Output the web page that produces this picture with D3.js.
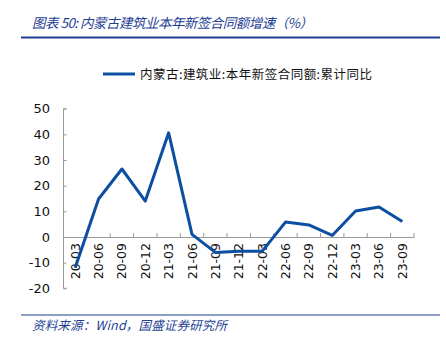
<!DOCTYPE html>
<html><head><meta charset="utf-8">
<script src="https://cdn.jsdelivr.net/npm/d3@7"></script>
<style>body{margin:0;background:#fff;} svg{display:block;}</style>
</head><body>
<script>
const categories = ["20-03","20-06","20-09","20-12","21-03","21-06","21-09","21-12","22-03","22-06","22-09","22-12","23-03","23-06","23-09"];
const values = [-12, 14.8, 26.5, 14, 40.6, 1, -6, -5.6, -5.6, 5.8, 4.7, 0.6, 10.1, 11.7, 6];
const yTicks = [-20,-10,0,10,20,30,40,50];
const seriesName = "内蒙古:建筑业:本年新签合同额:累计同比";
const titleText = "图表 50:  内蒙古建筑业本年新签合同额增速（%）";
const sourceText = "资料来源：Wind，国盛证券研究所";

const W=446,H=345;
const svg=d3.select("body").append("svg").attr("width",W).attr("height",H);
const blue="#0b4ea2", titleBlue="#1f3f94";
const cjk="'Noto Sans CJK SC', sans-serif";

svg.append("text").attr("x",32).attr("y",28).attr("fill",titleBlue)
  .attr("textLength",281).attr("lengthAdjust","spacing")
  .style("font-family",cjk).style("font-size","13.5px").style("font-style","italic").text(titleText);
svg.append("line").attr("x1",21).attr("x2",440).attr("y1",37.5).attr("y2",37.5).attr("stroke",titleBlue).attr("stroke-width",2);

svg.append("line").attr("x1",21).attr("x2",440).attr("y1",315).attr("y2",315).attr("stroke",titleBlue).attr("stroke-width",1.2);
svg.append("text").attr("x",32).attr("y",330).attr("fill",titleBlue)
  .attr("textLength",195).attr("lengthAdjust","spacing")
  .style("font-family",cjk).style("font-size","12.5px").style("font-style","italic").text(sourceText);

// legend
svg.append("line").attr("x1",103).attr("x2",135).attr("y1",74).attr("y2",74).attr("stroke",blue).attr("stroke-width",3);
svg.append("text").attr("x",140).attr("y",78.5).attr("fill","#111")
  .attr("textLength",232).attr("lengthAdjust","spacing")
  .style("font-family",cjk).style("font-size","12.5px").text(seriesName);

const x=d3.scaleBand().domain(categories).range([63.5,414]);
const y=d3.scaleLinear().domain([-20,50]).range([288.3,108.7]);

const axisColor="#9a9a9a";
// y axis
const ya=svg.append("g").attr("transform","translate(63.5,0)")
  .call(d3.axisRight(y).tickValues(yTicks).tickSize(3).tickFormat(""));
ya.select(".domain").attr("stroke",axisColor).attr("d",`M3,${y(50)}H0V${y(-20)}H3`);
ya.selectAll(".tick line").attr("stroke",axisColor);
svg.append("g").selectAll("text").data(yTicks).join("text")
  .attr("x",50).attr("y",d=>y(d)).attr("dy","0.36em").attr("text-anchor","end")
  .style("font-family","'DejaVu Sans', sans-serif").style("font-size","13px").attr("fill","#111").text(d=>d);

// x axis
const xa=svg.append("g").attr("transform",`translate(0,${y(0)})`)
  .call(d3.axisTop(x).tickValues([]).tickSize(0));
xa.select(".domain").attr("stroke",axisColor).attr("stroke-width",1.2);
const bounds=categories.map(c=>x(c)).concat([x.range()[1]]);
svg.append("g").selectAll("line").data(bounds).join("line")
  .attr("x1",d=>d).attr("x2",d=>d).attr("y1",y(0)).attr("y2",y(0)-4).attr("stroke",axisColor);
svg.append("g").selectAll("text").data(categories).join("text")
  .attr("transform",d=>`translate(${x(d)+x.bandwidth()/2+4.5},${y(0)+6}) rotate(-90)`)
  .attr("text-anchor","end")
  .style("font-family","'DejaVu Sans', sans-serif").style("font-size","12.5px").attr("fill","#111").text(d=>d);

// line
const line=d3.line().x((d,i)=>x(categories[i])+x.bandwidth()/2).y(d=>y(d));
svg.append("path").datum(values).attr("d",line).attr("fill","none").attr("stroke",blue)
  .attr("stroke-width",3).attr("stroke-linejoin","round");
</script>
</body></html>
